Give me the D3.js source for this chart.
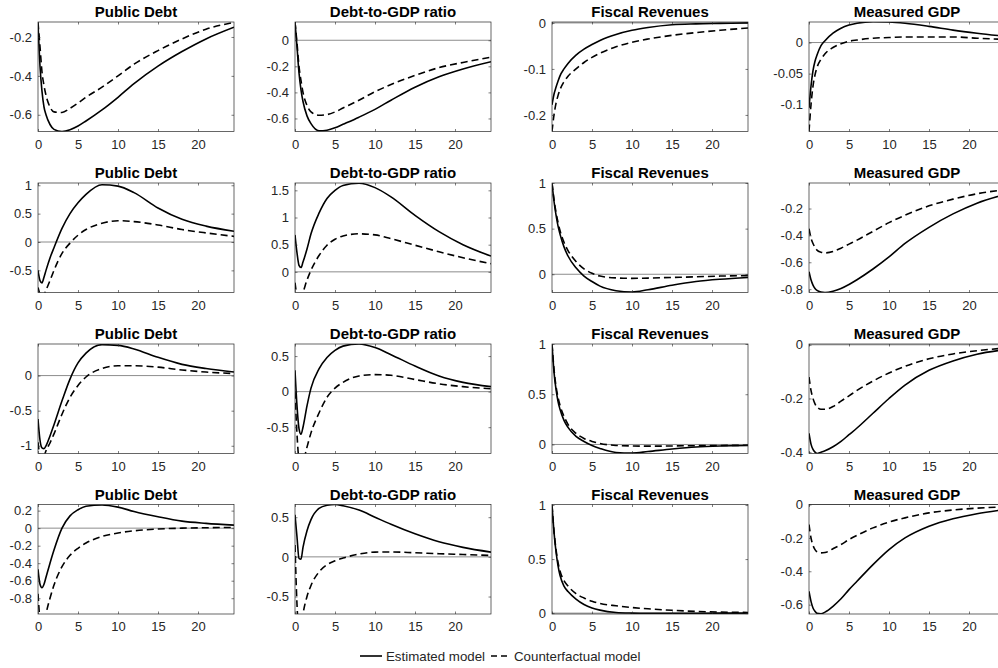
<!DOCTYPE html>
<html>
<head>
<meta charset="utf-8">
<script src="https://cdn.jsdelivr.net/npm/d3@7"></script>
<style>
  body { margin: 0; background: #fff; }
  svg { display: block; font-family: "Liberation Sans", Arial, Helvetica, sans-serif; }
</style>
</head>
<body>
<svg id="svg0" width="998" height="668"></svg>
<script>
// horizon (quarters) shared by every panel
var t = [0, 0.25, 0.5, 0.75, 1, 1.5, 2, 3, 4, 5, 6, 8, 10, 12, 15, 18, 21, 24.5];

var titles = ["Public Debt", "Debt-to-GDP ratio", "Fiscal Revenues", "Measured GDP"];

// estimated model, one list per row, one array per column
var row1Est = [
  [-0.13, -0.35, -0.48, -0.56, -0.6, -0.65, -0.675, -0.686, -0.677, -0.658, -0.632, -0.575, -0.51, -0.44, -0.35, -0.275, -0.21, -0.15],
  [0.14, -0.05, -0.25, -0.38, -0.47, -0.58, -0.64, -0.695, -0.69, -0.672, -0.645, -0.59, -0.53, -0.46, -0.36, -0.28, -0.22, -0.165],
  [-0.178, -0.155, -0.14, -0.127, -0.115, -0.1, -0.088, -0.07, -0.057, -0.047, -0.038, -0.025, -0.016, -0.01, -0.004, -0.002, -0.001, 0],
  [-0.105, -0.07, -0.045, -0.03, -0.02, -0.005, 0.003, 0.015, 0.023, 0.028, 0.031, 0.0335, 0.033, 0.031, 0.026, 0.02, 0.015, 0.01]
];
var row1Cf = [
  [-0.125, -0.25, -0.38, -0.45, -0.5, -0.56, -0.585, -0.588, -0.567, -0.54, -0.51, -0.458, -0.4, -0.34, -0.27, -0.21, -0.16, -0.125],
  [0.14, -0.02, -0.2, -0.31, -0.4, -0.5, -0.55, -0.575, -0.57, -0.55, -0.52, -0.46, -0.395, -0.34, -0.27, -0.21, -0.17, -0.13],
  [-0.236, -0.2, -0.175, -0.158, -0.145, -0.128, -0.116, -0.1, -0.086, -0.075, -0.066, -0.052, -0.042, -0.035, -0.027, -0.021, -0.016, -0.011],
  [-0.143, -0.1, -0.07, -0.052, -0.04, -0.027, -0.018, -0.008, -0.002, 0.002, 0.004, 0.007, 0.008, 0.009, 0.009, 0.009, 0.007, 0.005]
];

var row2Est = [
  [-0.5, -0.68, -0.72, -0.62, -0.5, -0.28, -0.1, 0.24, 0.5, 0.69, 0.84, 1.01, 0.985, 0.87, 0.6, 0.4, 0.28, 0.19],
  [0.68, 0.35, 0.12, 0.08, 0.18, 0.42, 0.7, 1.08, 1.35, 1.5, 1.59, 1.63, 1.55, 1.38, 1.04, 0.74, 0.5, 0.29],
  [1, 0.8, 0.65, 0.53, 0.44, 0.3, 0.2, 0.07, -0.02, -0.08, -0.13, -0.18, -0.195, -0.17, -0.12, -0.08, -0.055, -0.035],
  [-0.67, -0.73, -0.77, -0.795, -0.81, -0.822, -0.825, -0.815, -0.795, -0.765, -0.73, -0.65, -0.56, -0.46, -0.34, -0.24, -0.16, -0.095]
];
var row2Cf = [
  [-0.8, -0.92, -0.98, -0.93, -0.85, -0.68, -0.5, -0.2, -0.02, 0.12, 0.22, 0.33, 0.375, 0.36, 0.3, 0.22, 0.16, 0.1],
  [-0.2, -0.45, -0.55, -0.48, -0.38, -0.15, 0.03, 0.3, 0.49, 0.6, 0.66, 0.7, 0.68, 0.61, 0.49, 0.37, 0.26, 0.15],
  [1, 0.82, 0.68, 0.57, 0.48, 0.35, 0.26, 0.14, 0.06, 0.01, -0.02, -0.04, -0.045, -0.042, -0.035, -0.028, -0.02, -0.015],
  [-0.35, -0.42, -0.46, -0.49, -0.51, -0.525, -0.53, -0.52, -0.495, -0.465, -0.435, -0.37, -0.305, -0.25, -0.18, -0.13, -0.09, -0.06]
];

var row3Est = [
  [-0.62, -0.92, -1.03, -1.04, -1.0, -0.86, -0.7, -0.36, -0.05, 0.18, 0.32, 0.44, 0.43, 0.38, 0.26, 0.16, 0.1, 0.05],
  [0.3, -0.2, -0.52, -0.6, -0.5, -0.2, 0.05, 0.32, 0.48, 0.58, 0.64, 0.67, 0.62, 0.52, 0.36, 0.22, 0.13, 0.07],
  [1, 0.72, 0.55, 0.43, 0.35, 0.24, 0.17, 0.08, 0.03, -0.01, -0.04, -0.08, -0.085, -0.07, -0.045, -0.025, -0.015, -0.01],
  [-0.33, -0.37, -0.39, -0.4, -0.405, -0.4, -0.395, -0.38, -0.36, -0.335, -0.31, -0.255, -0.2, -0.15, -0.095, -0.06, -0.035, -0.018]
];
var row3Cf = [
  [-0.95, -1.15, -1.2, -1.15, -1.07, -0.96, -0.83, -0.55, -0.31, -0.14, -0.02, 0.1, 0.14, 0.14, 0.12, 0.08, 0.05, 0.03],
  [0.0, -0.6, -0.95, -1.0, -0.98, -0.78, -0.58, -0.3, -0.08, 0.05, 0.13, 0.22, 0.24, 0.23, 0.17, 0.11, 0.07, 0.04],
  [1, 0.75, 0.58, 0.47, 0.39, 0.28, 0.2, 0.11, 0.06, 0.03, 0.01, -0.01, -0.015, -0.017, -0.015, -0.012, -0.01, -0.008],
  [-0.12, -0.17, -0.2, -0.22, -0.232, -0.24, -0.24, -0.23, -0.21, -0.19, -0.17, -0.135, -0.105, -0.08, -0.052, -0.034, -0.022, -0.012]
];

var row4Est = [
  [-0.47, -0.64, -0.68, -0.64, -0.56, -0.4, -0.25, 0.0, 0.14, 0.21, 0.25, 0.265, 0.24, 0.19, 0.13, 0.08, 0.055, 0.035],
  [0.53, 0.25, -0.02, -0.03, 0.12, 0.33, 0.47, 0.61, 0.65, 0.66, 0.645, 0.59, 0.5, 0.41, 0.29, 0.19, 0.12, 0.06],
  [1, 0.75, 0.57, 0.44, 0.35, 0.25, 0.2, 0.13, 0.08, 0.048, 0.028, 0.006, 0.0, -0.002, -0.002, -0.001, 0.0, 0.0],
  [-0.52, -0.58, -0.62, -0.64, -0.652, -0.655, -0.645, -0.61, -0.565, -0.51, -0.46, -0.36, -0.27, -0.2, -0.13, -0.085, -0.055, -0.03]
];
var row4Cf = [
  [-0.75, -1.05, -1.15, -1.1, -0.98, -0.8, -0.65, -0.44, -0.31, -0.23, -0.17, -0.095, -0.055, -0.03, -0.01, 0.0, 0.005, 0.008],
  [0.15, -0.6, -0.95, -0.9, -0.72, -0.5, -0.36, -0.19, -0.1, -0.05, -0.015, 0.035, 0.06, 0.062, 0.052, 0.04, 0.03, 0.018],
  [1, 0.76, 0.59, 0.47, 0.39, 0.3, 0.25, 0.18, 0.14, 0.11, 0.09, 0.068, 0.052, 0.04, 0.026, 0.016, 0.01, 0.006],
  [-0.12, -0.2, -0.245, -0.27, -0.283, -0.29, -0.288, -0.265, -0.24, -0.21, -0.185, -0.14, -0.105, -0.08, -0.05, -0.033, -0.022, -0.014]
];

// axis limits and ticks
var yLimits = [
  [[-0.686, -0.123], [-0.7, 0.14], [-0.236, 0.002], [-0.143, 0.033]],
  [[-0.89, 1.04], [-0.38, 1.635], [-0.2, 1.0], [-0.825, -0.01]],
  [[-1.11, 0.45], [-0.87, 0.67], [-0.09, 1.0], [-0.405, 0.003]],
  [[-0.98, 0.27], [-0.72, 0.66], [-0.008, 1.005], [-0.656, 0.0]]
];
var yTicks = [
  [[-0.6, -0.4, -0.2], [-0.6, -0.4, -0.2, 0], [-0.2, -0.1, 0], [-0.1, -0.05, 0]],
  [[-0.5, 0, 0.5, 1], [0, 0.5, 1, 1.5], [0, 0.5, 1], [-0.8, -0.6, -0.4, -0.2]],
  [[-1, -0.5, 0], [-0.5, 0, 0.5], [0, 0.5, 1], [-0.4, -0.2, 0]],
  [[-0.8, -0.6, -0.4, -0.2, 0, 0.2], [-0.5, 0, 0.5], [0, 0.5, 1], [-0.6, -0.4, -0.2, 0]]
];
var xTicks = [0, 5, 10, 15, 20];

var estRows = [row1Est, row2Est, row3Est, row4Est];
var cfRows = [row1Cf, row2Cf, row3Cf, row4Cf];

var colLeft = [38, 295, 552, 809];
var rowTop = [22, 183, 344, 504.5];
var w = 196, h = 109.5;

var svg = d3.select('#svg0');
var ink = '#262626';

function fmt(d) { return String(+d.toFixed(3)); }

var x = d3.scaleLinear().domain([0, 24.5]).range([0, w]);

for (var r = 0; r < 4; r++) {
  for (var c = 0; c < 4; c++) {
    var g = svg.append('g')
        .attr('transform', 'translate(' + colLeft[c] + ',' + rowTop[r] + ')');

    var y = d3.scaleLinear().domain(yLimits[r][c]).range([h, 0]);

    var clipId = 'clip' + r + c;
    g.append('clipPath').attr('id', clipId)
      .append('rect').attr('width', w).attr('height', h);

    // zero line
    if (y.domain()[0] <= 0 && y.domain()[1] >= 0) {
      g.append('line')
        .attr('x1', 0).attr('x2', w)
        .attr('y1', y(0)).attr('y2', y(0))
        .attr('stroke', '#8c8c8c')
        .attr('stroke-width', 1);
    }

    var line = d3.line()
        .x(function (d, i) { return x(t[i]); })
        .y(function (d) { return y(d); })
        .curve(d3.curveMonotoneX);

    g.append('path')
      .attr('clip-path', 'url(#' + clipId + ')')
      .attr('d', line(cfRows[r][c]))
      .attr('fill', 'none')
      .attr('stroke', '#000')
      .attr('stroke-width', 1.6)
      .attr('stroke-dasharray', '7,4');

    g.append('path')
      .attr('clip-path', 'url(#' + clipId + ')')
      .attr('d', line(estRows[r][c]))
      .attr('fill', 'none')
      .attr('stroke', '#000')
      .attr('stroke-width', 1.6);

    // axes with inward ticks on all four sides
    var ax = [
      ['translate(0,' + h + ')', d3.axisBottom(x).tickValues(xTicks).tickFormat(fmt), 8],
      ['translate(0,0)', d3.axisTop(x).tickValues(xTicks).tickFormat(''), 6],
      ['translate(0,0)', d3.axisLeft(y).tickValues(yTicks[r][c]).tickFormat(fmt), 6],
      ['translate(' + w + ',0)', d3.axisRight(y).tickValues(yTicks[r][c]).tickFormat(''), 6]
    ];
    ax.forEach(function (a) {
      var sel = g.append('g').attr('transform', a[0])
          .call(a[1].tickSize(-2.5).tickPadding(a[2]));
      sel.select('.domain').remove();
      sel.selectAll('line').attr('stroke', ink).attr('stroke-width', 0.6);
      sel.selectAll('text').attr('fill', ink).style('font-size', '13px');
    });

    g.append('rect')
      .attr('width', w).attr('height', h)
      .attr('fill', 'none')
      .attr('stroke', ink)
      .attr('stroke-width', 0.7);

    g.append('text')
      .attr('x', w / 2).attr('y', -5)
      .attr('text-anchor', 'middle')
      .style('font-size', '15px')
      .style('font-weight', 'bold')
      .attr('fill', '#000')
      .text(titles[c]);
  }
}

// legend
var legend = svg.append('g').attr('transform', 'translate(360,656)');
legend.append('line').attr('x1', 0).attr('x2', 22).attr('y1', 0).attr('y2', 0)
  .attr('stroke', '#000').attr('stroke-width', 1.6);
legend.append('text').attr('x', 26).attr('y', 4.5).style('font-size', '13.3px').attr('fill', ink)
  .text('Estimated model');
legend.append('line').attr('x1', 131).attr('x2', 151).attr('y1', 0).attr('y2', 0)
  .attr('stroke', '#000').attr('stroke-width', 1.6).attr('stroke-dasharray', '6,4');
legend.append('text').attr('x', 154).attr('y', 4.5).style('font-size', '13.3px').attr('fill', ink)
  .text('Counterfactual model');
</script>
</body>
</html>
